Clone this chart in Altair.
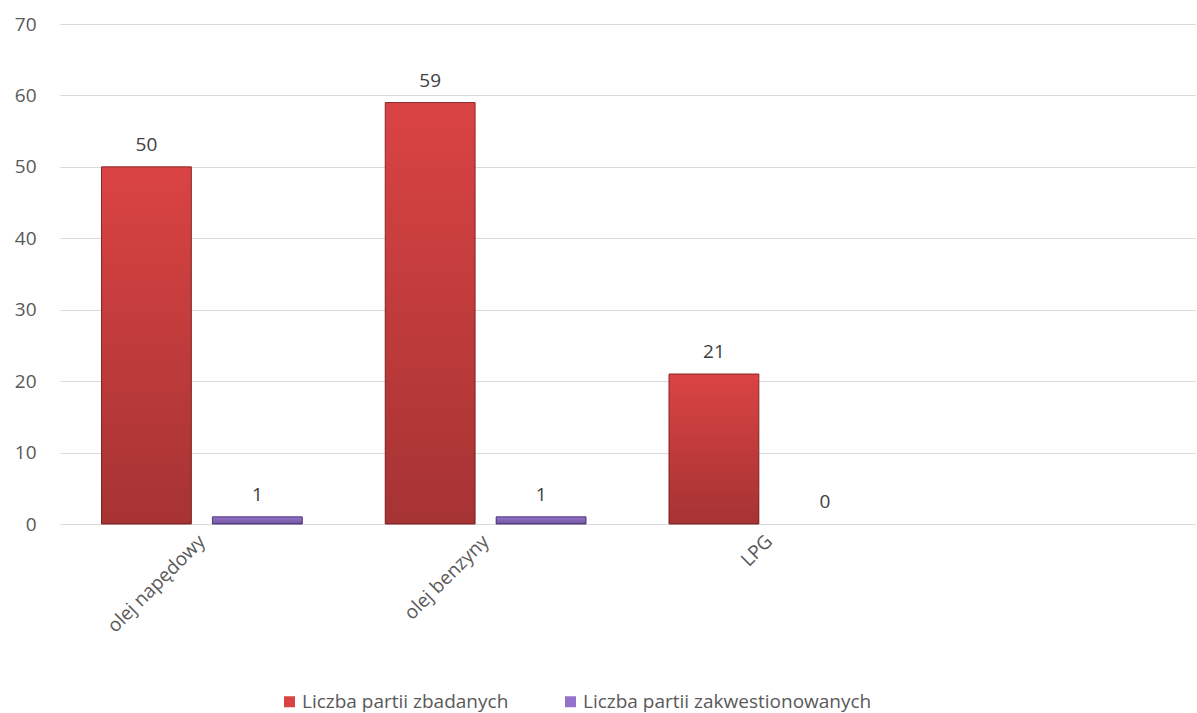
import altair as alt
import pandas as pd

# Fuel types (the fourth slot is left empty, as in the original layout)
categories = ["olej napędowy", "olej benzyny", "LPG"]
axis_domain = categories + [" "]
series = ["Liczba partii zbadanych", "Liczba partii zakwestionowanych"]
tested = [50, 59, 21]
rejected = [1, 1, 0]

rows = []
for c, t, r in zip(categories, tested, rejected):
    rows.append({"kategoria": c, "seria": series[0], "wartosc": t})
    rows.append({"kategoria": c, "seria": series[1], "wartosc": r})
df = pd.DataFrame(rows)

FONT = "Open Sans"
FS = 19
fills = ["#da4343", "#9472cb"]
edges = ["#8a2828", "#4f3780"]

x_enc = alt.X(
    "kategoria:N",
    scale=alt.Scale(domain=axis_domain, paddingInner=0, paddingOuter=0),
    sort=axis_domain,
    axis=alt.Axis(
        title=None, labelAngle=-45, labelAlign="right", labelBaseline="middle",
        labelPadding=14, ticks=False, grid=False, domain=True, domainColor="#d9d9d9",
        labelFont=FONT, labelFontSize=FS, labelColor="#595959", labelLimit=0,
        labelExpr="datum.value == ' ' ? '' : datum.value",
    ),
)
xoff = alt.XOffset(
    "seria:N", sort=series,
    scale=alt.Scale(domain=series, paddingInner=0.19, paddingOuter=0.374),
)
y_enc = alt.Y(
    "wartosc:Q",
    scale=alt.Scale(domain=[0, 70]),
    axis=alt.Axis(
        title=None, values=list(range(0, 71, 10)), grid=True, gridColor="#d9d9d9",
        domain=False, ticks=False, labelPadding=24, labelFont=FONT,
        labelFontSize=FS, labelColor="#595959",
    ),
)

bars = alt.Chart(df).transform_filter("datum.wartosc > 0").mark_bar(strokeWidth=1).encode(
    x=x_enc,
    xOffset=xoff,
    y=y_enc,
    color=alt.Color(
        "seria:N", sort=series,
        scale=alt.Scale(domain=series, range=fills),
        legend=alt.Legend(
            title=None, orient="none", direction="horizontal",
            legendX=220, legendY=668, symbolType="square", symbolSize=121,
            symbolStrokeWidth=0, labelFont=FONT, labelFontSize=FS,
            labelColor="#595959", columnPadding=52, labelOffset=3, labelLimit=0,
        ),
    ),
    stroke=alt.Stroke(
        "seria:N", sort=series,
        scale=alt.Scale(domain=series, range=edges), legend=None,
    ),
)

# vertical shading: full colour at the top, darker towards the base
shade = alt.Chart(df).transform_filter("datum.wartosc > 0").mark_bar(
    color=alt.Gradient(
        gradient="linear", x1=0, y1=0, x2=0, y2=1,
        stops=[
            alt.GradientStop(color="rgba(0,0,0,0)", offset=0),
            alt.GradientStop(color="rgba(0,0,0,0.24)", offset=1),
        ],
    )
).encode(x=x_enc, xOffset=xoff, y=y_enc)

labels = alt.Chart(df).mark_text(
    baseline="bottom", dy=-12, font=FONT, fontSize=FS, color="#404040"
).encode(
    x=x_enc, xOffset=xoff, y=y_enc, text=alt.Text("wartosc:Q"),
)

chart = (
    alt.layer(bars, shade, labels)
    .properties(
        width=1135, height=500,
        autosize=alt.AutoSizeParams(type="none"),
        padding={"left": 60, "top": 24, "right": 2, "bottom": 189},
        view=alt.ViewBackground(stroke="transparent", strokeWidth=0),
    )
    .configure_view(stroke="transparent", strokeWidth=0)
    .configure_axis(grid=False)
    .configure_axisY(grid=True)
    .configure(background="white")
)

chart.save("out.html", embed_options={"renderer": "svg", "actions": False})
